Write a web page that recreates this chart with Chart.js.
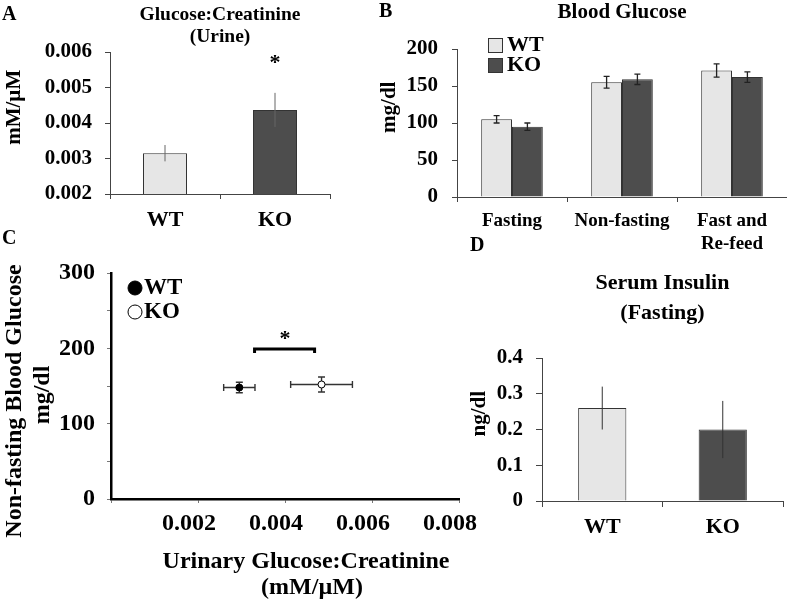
<!DOCTYPE html>
<html>
<head>
<meta charset="utf-8">
<script src="https://cdn.jsdelivr.net/npm/chart.js@4"></script>
<style>
  body { margin: 0; background: #fff; }
  #fig { position: relative; width: 787px; height: 600px; overflow: hidden; background: #fff; }
  #fig canvas { position: absolute; }
  .letter { position: absolute; font: bold 20px "Liberation Serif", serif; color: #000; line-height: 20px; }
</style>
</head>
<body>
<div id="fig">
  <canvas id="chartA" width="370" height="235" style="left:0;top:0"></canvas>
  <canvas id="chartB" width="417" height="262" style="left:370px;top:0"></canvas>
  <canvas id="chartC" width="495" height="365" style="left:0;top:235px"></canvas>
  <canvas id="chartD" width="387" height="340" style="left:400px;top:260px"></canvas>
  <div class="letter" style="left:2px;top:3px">A</div>
  <div class="letter" style="left:379px;top:0px">B</div>
  <div class="letter" style="left:2px;top:227px">C</div>
  <div class="letter" style="left:470px;top:234px">D</div>
</div>
<script>
// panel A - urine glucose:creatinine
const genotypes = ['WT', 'KO'];
const ratioMean = [0.00315, 0.00437];
const ratioErr = [0.00023, 0.00048];
const starA = [1, 0.0058];

// panel B - blood glucose
const glucoseGroups = ['Fasting', 'Non-fasting', ['Fast and', 'Re-feed']];
const glucoseWT = [105, 155, 171];
const glucoseWTErr = [5, 8, 9];
const glucoseKO = [95, 159, 162];
const glucoseKOErr = [5, 7, 7];

// panel C - ratio vs non-fasting glucose (WT, KO)
const corrX = [0.00295, 0.00484];
const corrXErr = [0.00036, 0.00071];
const corrY = [148, 152];
const corrYErr = [7, 10];
const bracketC = [0.0033, 0.00468, 199];
const starC = [0.004, 218];

// panel D - serum insulin
const insulinMean = [0.26, 0.20];
const insulinErr = [0.06, 0.08];

const lightFill = '#e6e6e6';
const darkFill = '#4d4d4d';
const serif = '"Liberation Serif", "Times New Roman", serif';

Chart.defaults.font.family = serif;
Chart.defaults.font.weight = 'bold';
Chart.defaults.color = '#000';
Chart.defaults.animation = false;
Chart.defaults.plugins.legend.display = false;
Chart.defaults.plugins.tooltip.enabled = false;

const errorBars = {
  id: 'errorBars',
  draw(chart, opts) {
    const ctx = chart.ctx;
    const xs = chart.scales.x, ys = chart.scales.y;
    const cap = opts.cap || 0;
    ctx.save();
    ctx.strokeStyle = opts.color || '#333';
    ctx.lineWidth = opts.width || 1;
    chart.data.datasets.forEach((ds, di) => {
      const meta = chart.getDatasetMeta(di);
      meta.data.forEach((el, i) => {
        const d = ds.data[i];
        const vy = typeof d === 'object' ? d.y : d;
        ctx.beginPath();
        if (ds.yErr) {
          const t = ys.getPixelForValue(vy + ds.yErr[i]);
          const b = ys.getPixelForValue(vy - ds.yErr[i]);
          ctx.moveTo(el.x, t); ctx.lineTo(el.x, b);
          if (cap) {
            ctx.moveTo(el.x - cap, t); ctx.lineTo(el.x + cap, t);
            ctx.moveTo(el.x - cap, b); ctx.lineTo(el.x + cap, b);
          }
        }
        if (ds.xErr) {
          const l = xs.getPixelForValue(d.x - ds.xErr[i]);
          const r = xs.getPixelForValue(d.x + ds.xErr[i]);
          ctx.moveTo(l, el.y); ctx.lineTo(r, el.y);
          if (cap) {
            ctx.moveTo(l, el.y - cap); ctx.lineTo(l, el.y + cap);
            ctx.moveTo(r, el.y - cap); ctx.lineTo(r, el.y + cap);
          }
        }
        ctx.stroke();
      });
    });
    ctx.restore();
  },
  beforeDatasetsDraw(chart, args, opts) { if (opts.behind) this.draw(chart, opts); },
  afterDatasetsDraw(chart, args, opts) { if (opts.color && !opts.behind) this.draw(chart, opts); }
};

// legend drawn inside the plot area, like the original figure
const insideLegend = {
  id: 'insideLegend',
  afterDraw(chart, args, opts) {
    if (!opts.display) return;
    const {ctx, chartArea} = chart;
    ctx.save();
    ctx.font = 'bold ' + opts.size + 'px ' + serif;
    ctx.textBaseline = 'middle';
    chart.data.datasets.forEach((ds, i) => {
      const x = chartArea.left + opts.dx;
      const cy = chartArea.top + opts.dy + i * opts.pitch;
      const fill = Array.isArray(ds.backgroundColor) ? ds.backgroundColor[0] : ds.backgroundColor;
      ctx.fillStyle = fill;
      ctx.strokeStyle = opts.stroke;
      ctx.lineWidth = 1;
      if (opts.marker === 'circle') {
        ctx.beginPath();
        ctx.arc(x + opts.box / 2, cy, opts.box / 2, 0, Math.PI * 2);
        ctx.fill(); ctx.stroke();
      } else {
        ctx.fillRect(x, cy - opts.box / 2, opts.box, opts.box);
        ctx.strokeRect(x + 0.5, cy - opts.box / 2 + 0.5, opts.box - 1, opts.box - 1);
      }
      ctx.fillStyle = '#000';
      ctx.fillText(ds.label, x + opts.box + opts.gap, cy);
    });
    ctx.restore();
  }
};

// significance stars and brackets
const sigMarks = {
  id: 'sigMarks',
  afterDraw(chart, args, opts) {
    if (!opts.stars) return;
    const ctx = chart.ctx;
    const xs = chart.scales.x, ys = chart.scales.y;
    ctx.save();
    (opts.brackets || []).forEach(b => {
      const x1 = xs.getPixelForValue(b[0]), x2 = xs.getPixelForValue(b[1]);
      const y = ys.getPixelForValue(b[2]);
      ctx.strokeStyle = '#000';
      ctx.lineWidth = 3;
      ctx.beginPath();
      ctx.moveTo(x1, y + 4); ctx.lineTo(x1, y); ctx.lineTo(x2, y); ctx.lineTo(x2, y + 4);
      ctx.stroke();
    });
    ctx.fillStyle = '#000';
    ctx.font = 'bold ' + opts.size + 'px ' + serif;
    ctx.textAlign = 'center';
    ctx.textBaseline = 'middle';
    opts.stars.forEach(s => {
      ctx.fillText('*', xs.getPixelForValue(s[0]), ys.getPixelForValue(s[1]) + opts.size * 0.2);
    });
    ctx.restore();
  }
};

Chart.register(errorBars, insideLegend, sigMarks);

function fixWidth(w) { return s => { s.width = w; }; }
function fixHeight(h) { return s => { s.height = h; }; }
// axis titles in the original sit off the plot centre; pad with spaces to shift them
function pad(text, before, after) { return ' '.repeat(before) + text + ' '.repeat(after); }
const axisGrey = '#444';

// A
new Chart(document.getElementById('chartA'), {
  type: 'bar',
  data: {
    labels: genotypes,
    datasets: [{
      label: 'Glucose:Creatinine',
      data: ratioMean,
      yErr: ratioErr,
      backgroundColor: [lightFill, darkFill],
      borderColor: '#333',
      borderWidth: 1,
      barPercentage: 0.4,
      categoryPercentage: 1
    }]
  },
  options: {
    responsive: false,
    layout: { padding: { left: 0, right: 40, top: 0, bottom: 0 } },
    plugins: {
      title: {
        display: true, fullSize: false,
        text: ['Glucose:Creatinine', '(Urine)'],
        font: { size: 19.5, weight: 'bold', lineHeight: 1.15 },
        padding: { top: 3.8, bottom: 3.4 }
      },
      errorBars: { color: '#666', width: 1, cap: 0 },
      sigMarks: { stars: [starA], size: 22 }
    },
    scales: {
      x: {
        afterFit: fixHeight(41),
        grid: { offset: true, drawOnChartArea: false, tickLength: 5, color: axisGrey },
        border: { color: axisGrey },
        ticks: { font: { size: 22 }, padding: 8 }
      },
      y: {
        afterFit: fixWidth(110),
        min: 0.002, max: 0.006,
        grid: { drawOnChartArea: false, tickLength: 5, color: axisGrey },
        border: { color: axisGrey },
        ticks: { stepSize: 0.001, font: { size: 21 }, padding: 13, callback: v => v.toFixed(3) },
        title: { display: true, text: pad('mM/\u00b5M', 6, 0), font: { size: 21 }, padding: { top: 2, bottom: 0 } }
      }
    }
  }
});

// B
new Chart(document.getElementById('chartB'), {
  type: 'bar',
  data: {
    labels: glucoseGroups,
    datasets: [
      { label: 'WT', data: glucoseWT, yErr: glucoseWTErr, backgroundColor: lightFill, borderColor: '#333', borderWidth: 1, barPercentage: 1, categoryPercentage: 0.56 },
      { label: 'KO', data: glucoseKO, yErr: glucoseKOErr, backgroundColor: darkFill, borderColor: '#333', borderWidth: 1, barPercentage: 1, categoryPercentage: 0.56 }
    ]
  },
  options: {
    responsive: false,
    layout: { padding: 0 },
    plugins: {
      title: {
        display: true, fullSize: false,
        text: 'Blood Glucose',
        font: { size: 21, weight: 'bold', lineHeight: 1.2 },
        padding: { top: 0, bottom: 23.8 }
      },
      errorBars: { color: '#222', width: 1.3, cap: 3 },
      insideLegend: { display: true, dx: 31, dy: -3.5, pitch: 20, box: 15, gap: 4, size: 22, stroke: '#333' }
    },
    scales: {
      x: {
        afterFit: fixHeight(65),
        grid: { offset: true, drawOnChartArea: false, tickLength: 5, color: axisGrey },
        border: { color: axisGrey },
        ticks: { font: { size: 19, lineHeight: 1.2 }, padding: 8 }
      },
      y: {
        afterFit: fixWidth(87),
        min: 0, max: 200,
        grid: { drawOnChartArea: false, tickLength: 5, color: axisGrey },
        border: { color: axisGrey },
        ticks: { stepSize: 50, font: { size: 21 }, padding: 14 },
        title: { display: true, text: pad('mg/dl', 6, 0), font: { size: 21 }, padding: { top: 7, bottom: 0 } }
      }
    }
  }
});

// C
new Chart(document.getElementById('chartC'), {
  type: 'scatter',
  data: {
    datasets: [
      { label: 'WT', data: [{ x: corrX[0], y: corrY[0] }], xErr: [corrXErr[0]], yErr: [corrYErr[0]],
        backgroundColor: '#000', borderColor: '#000', borderWidth: 1, pointRadius: 3.5 },
      { label: 'KO', data: [{ x: corrX[1], y: corrY[1] }], xErr: [corrXErr[1]], yErr: [corrYErr[1]],
        backgroundColor: '#fff', borderColor: '#000', borderWidth: 1, pointRadius: 3.5 }
    ]
  },
  options: {
    responsive: false,
    layout: { padding: { left: 0, right: 36, top: 38, bottom: 0 } },
    plugins: {
      errorBars: { color: '#333', width: 1.4, cap: 3.5, behind: true },
      insideLegend: { display: true, marker: 'circle', dx: 17, dy: 15, pitch: 24, box: 14, gap: 2, size: 23, stroke: '#000' },
      sigMarks: { stars: [starC], brackets: [bracketC], size: 22 }
    },
    scales: {
      x: {
        type: 'linear',
        afterFit: fixHeight(101),
        min: 0, max: 0.008,
        grid: { drawOnChartArea: false, tickLength: 4, color: '#777' },
        border: { color: '#000', width: 2.5 },
        ticks: { stepSize: 0.002, font: { size: 24 }, padding: 6, labelOffset: -9,
          callback: v => Math.abs(v) < 1e-9 ? '' : v.toFixed(3) },
        title: { display: true, text: [pad('Urinary Glucose:Creatinine', 7, 0), pad('(mM/\u00b5M)', 9, 0)],
          font: { size: 24, lineHeight: 1.05 }, padding: { top: 0, bottom: 0 } }
      },
      y: {
        afterFit: fixWidth(111),
        min: 0, max: 300,
        grid: { drawOnChartArea: false, tickLength: 4, color: '#777' },
        border: { color: '#000', width: 2.5 },
        ticks: { stepSize: 50, font: { size: 24 }, padding: 12, callback: v => v % 100 === 0 ? v : '' },
        title: { display: true, text: [pad('Non-fasting Blood Glucose', 0, 5), pad('mg/dl', 0, 3)],
          font: { size: 24, lineHeight: 1.2 }, padding: { top: 0, bottom: 0 } }
      }
    }
  }
});

// D
new Chart(document.getElementById('chartD'), {
  type: 'bar',
  data: {
    labels: genotypes,
    datasets: [{
      label: 'Serum Insulin',
      data: insulinMean,
      yErr: insulinErr,
      backgroundColor: [lightFill, darkFill],
      borderColor: '#333',
      borderWidth: 1,
      barPercentage: 0.4,
      categoryPercentage: 1
    }]
  },
  options: {
    responsive: false,
    layout: { padding: { left: 0, right: 4, top: 0, bottom: 0 } },
    plugins: {
      title: {
        display: true, fullSize: false,
        text: ['Serum Insulin', '(Fasting)'],
        font: { size: 22, weight: 'bold', lineHeight: 1.364 },
        padding: { top: 8, bottom: 30 }
      },
      errorBars: { color: '#333', width: 1, cap: 0 }
    },
    scales: {
      x: {
        afterFit: fixHeight(99),
        grid: { offset: true, drawOnChartArea: false, tickLength: 6, color: axisGrey },
        border: { color: axisGrey },
        ticks: { font: { size: 22 }, padding: 7 }
      },
      y: {
        afterFit: fixWidth(142),
        min: 0, max: 0.4,
        grid: { drawOnChartArea: false, tickLength: 6, color: axisGrey },
        border: { color: axisGrey },
        ticks: { stepSize: 0.1, font: { size: 21 }, padding: 13, callback: v => v === 0 ? '0' : v.toFixed(1) },
        title: { display: true, text: pad('ng/dl', 6, 0), font: { size: 21 }, padding: { top: 67, bottom: 0 } }
      }
    }
  }
});
</script>
</body>
</html>
